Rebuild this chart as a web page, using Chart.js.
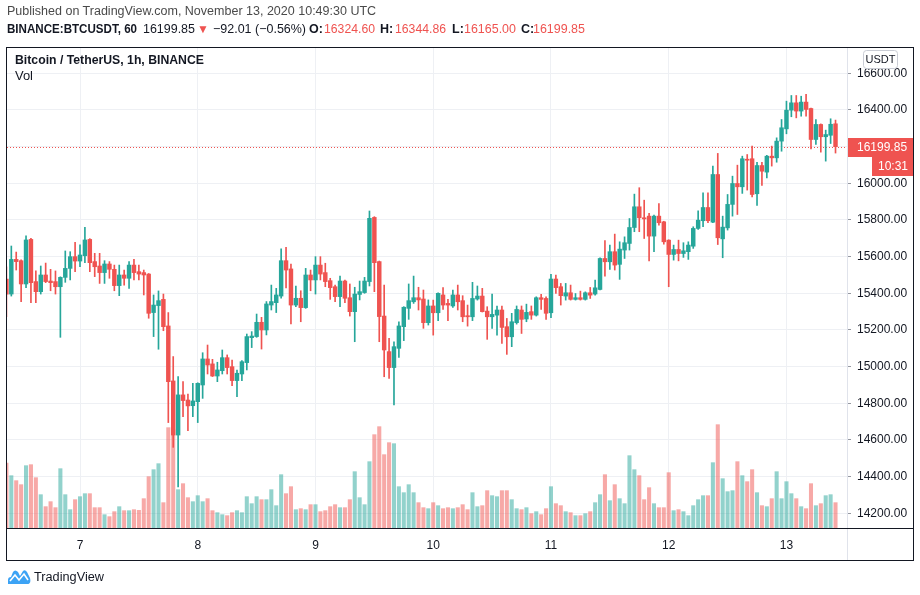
<!DOCTYPE html>
<html>
<head>
<meta charset="utf-8">
<script src="https://cdn.jsdelivr.net/npm/chart.js@4.4.1/dist/chart.umd.min.js"></script>
<style>
  html,body{margin:0;padding:0;background:#fff;}
  #wrap{position:relative;width:920px;height:595px;overflow:hidden;}
  canvas{position:absolute;left:0;top:0;}
  .t{position:absolute;white-space:nowrap;font-family:"Liberation Sans",Arial,sans-serif;font-size:12.5px;line-height:15px;color:#131722;transform-origin:0 50%;display:inline-block;z-index:2;}
  .b{font-weight:bold;}
  .r{color:#ef5350;}
  .g{color:#4a4a4a;}
</style>
</head>
<body>
<div id="wrap">
  <canvas id="c" width="920" height="595"></canvas>
  <div class="t g" style="left:7px;top:4px" data-w="369">Published on TradingView.com, November 13, 2020 10:49:30 UTC</div>
  <div class="t b" style="left:7px;top:22px" data-w="130">BINANCE:BTCUSDT, 60</div>
  <div class="t" style="left:143px;top:22px" data-w="52">16199.85</div>
  <div class="t r" style="left:197px;top:22px;font-size:12px">▼</div>
  <div class="t" style="left:213px;top:22px" data-w="93">−92.01 (−0.56%)</div>
  <div class="t b" style="left:309px;top:22px">O:</div>
  <div class="t r" style="left:324px;top:22px" data-w="51">16324.60</div>
  <div class="t b" style="left:380px;top:22px">H:</div>
  <div class="t r" style="left:395px;top:22px" data-w="51">16344.86</div>
  <div class="t b" style="left:452px;top:22px">L:</div>
  <div class="t r" style="left:464px;top:22px" data-w="52">16165.00</div>
  <div class="t b" style="left:521px;top:22px">C:</div>
  <div class="t r" style="left:533px;top:22px" data-w="52">16199.85</div>
  <div class="t b" style="left:15px;top:53px" data-w="189">Bitcoin / TetherUS, 1h, BINANCE</div>
  <div class="t" style="left:15px;top:69px" data-w="18">Vol</div>
  <svg style="position:absolute;left:7px;top:569px" width="24" height="16" viewBox="0 0 24 16">
    <path d="M1 15 L1 11 Q1 8 4 8 L6 3 Q8 0 11 3 L13 7 L16 2 Q18 0 20 3 L23 9 Q24.5 15 20 15 Z" fill="#3ca3f5"/>
    <path d="M3 12 L8 6 L12 11 L17 5 L21 11" stroke="#fff" stroke-width="1.6" fill="none"/>
  </svg>
  <div class="t" style="left:34px;top:570px" data-w="70">TradingView</div>
</div>
<script>
// ---- data (1h candles, Nov 6 09:00 UTC .. Nov 13 10:00 UTC) ----
const opens = [15478,15396,15585,15578,15451,15694,15464,15409,15500,15467,
15464,15436,15487,15536,15600,15576,15605,15694,15573,15549,
15513,15560,15531,15442,15500,15482,15554,15518,15513,15505,
15295,15333,15367,15222,14922,14627,14846,14818,14787,14809,
14900,15042,15015,14949,14978,15049,15000,14924,14960,15022,
15158,15164,15242,15200,15336,15349,15385,15578,15533,15336,
15373,15322,15500,15473,15554,15513,15469,15436,15382,15467,
15376,15300,15394,15404,15464,15814,15573,15276,15082,14995,
15100,15218,15318,15354,15376,15369,15240,15331,15294,15391,
15345,15331,15391,15360,15278,15272,15369,15385,15303,15272,
15281,15309,15218,15163,15240,15309,15260,15300,15281,15376,
15372,15294,15478,15436,15385,15403,15367,15376,15367,15403,
15396,15421,15590,15572,15627,15558,15636,15672,15759,15872,
15812,15821,15712,15821,15790,15690,15612,15639,15617,15627,
15657,15754,15796,15868,15788,16048,15697,15757,15885,15999,
15981,16130,16134,15943,16097,16061,16148,16139,16230,16297,
16399,16439,16394,16443,16408,16239,16321,16254,16262,16324.60];
const highs = [15545,15658,15625,15582,15713,15700,15522,15549,15565,15531,
15522,15490,15631,15627,15678,15664,15760,15698,15618,15618,
15578,15573,15554,15554,15527,15573,15585,15554,15527,15508,
15391,15413,15396,15295,15055,14946,14918,14851,14909,14912,
15076,15118,15040,15024,15091,15064,15036,14982,15033,15178,
15191,15287,15269,15355,15445,15427,15642,15651,15560,15440,
15414,15536,15527,15600,15600,15564,15482,15445,15494,15472,
15451,15433,15467,15487,15849,15818,15576,15445,15155,15136,
15245,15327,15451,15494,15433,15418,15364,15363,15403,15431,
15367,15418,15445,15387,15336,15460,15440,15427,15327,15396,
15331,15331,15263,15291,15331,15331,15341,15331,15381,15394,
15381,15503,15500,15454,15454,15445,15399,15412,15408,15432,
15472,15594,15687,15663,15723,15681,15708,15808,15941,15976,
15908,15836,15827,15890,15793,15692,15663,15690,15676,15681,
15763,15850,15948,15948,16094,16163,15821,15939,16039,16099,
16148,16157,16203,16115,16115,16152,16203,16248,16348,16448,
16479,16479,16475,16485,16410,16348,16324,16290,16352,16344.86];
const lows = [15273,15385,15527,15354,15431,15349,15349,15396,15458,15414,
15396,15160,15460,15473,15518,15545,15567,15518,15491,15454,
15454,15482,15414,15387,15445,15427,15473,15473,15391,15264,
15164,15095,15196,14695,14560,14344,14727,14651,14727,14695,
14827,14960,14946,14918,14960,14960,14896,14836,14924,14982,
15104,15160,15096,15173,15309,15295,15373,15430,15233,15327,
15245,15318,15414,15396,15473,15436,15367,15354,15327,15349,
15276,15136,15364,15400,15440,15409,15136,14945,14936,14791,
15051,15142,15258,15345,15309,15209,15227,15172,15251,15312,
15251,15323,15309,15245,15221,15251,15363,15298,15149,15209,
15172,15127,15067,15109,15232,15181,15245,15258,15276,15312,
15258,15267,15400,15336,15363,15363,15363,15363,15363,15372,
15390,15418,15494,15530,15527,15476,15590,15636,15736,15736,
15699,15577,15627,15772,15668,15436,15581,15577,15596,15585,
15645,15748,15763,15785,15785,15666,15594,15745,15821,15830,
15945,15963,15926,15879,15988,16030,16094,16115,16175,16270,
16363,16357,16366,16366,16188,16212,16170,16121,16217,16165.00];
const closes = [15396,15585,15573,15451,15691,15458,15409,15500,15464,15458,
15436,15487,15536,15600,15576,15609,15691,15567,15545,15513,
15560,15531,15442,15500,15482,15554,15513,15505,15500,15291,
15336,15360,15218,14918,14627,14846,14815,14786,14813,14909,
15042,15009,14949,14982,15049,14995,14924,14964,15027,15164,
15167,15242,15200,15342,15355,15391,15578,15527,15336,15373,
15322,15500,15473,15554,15505,15464,15431,15382,15467,15373,
15300,15396,15409,15467,15809,15567,15273,15091,14995,15109,
15222,15324,15360,15376,15364,15240,15331,15294,15400,15336,
15336,15391,15354,15272,15272,15372,15385,15300,15272,15285,
15309,15214,15163,15245,15312,15258,15296,15281,15376,15367,
15291,15478,15431,15387,15403,15367,15376,15367,15403,15390,
15430,15590,15572,15627,15554,15641,15676,15759,15872,15812,
15806,15712,15821,15785,15681,15612,15639,15617,15632,15663,
15754,15799,15868,15796,16048,15703,15761,15885,15999,15981,
16134,16126,15939,16097,16066,16148,16139,16230,16303,16399,
16439,16394,16443,16403,16239,16321,16254,16266,16322,16199.85];
const volumes = [5850,4710,4260,3900,5610,5700,4530,3000,1920,2370,
1830,5340,3000,1650,2550,2820,3090,3090,1830,1830,
1200,1020,1470,1920,1560,1560,1650,1590,2640,4620,
5250,5790,2280,9030,8850,3450,3990,2730,2370,2910,
2370,2640,1560,1380,1200,1110,1380,1560,1380,2820,
2190,2820,2550,2550,3450,2010,4800,3090,3720,1650,
1740,1650,2100,2100,1470,1560,1920,2100,1830,1830,
2550,5070,2730,2100,5970,8400,9120,6600,7680,7590,
3720,3180,3900,3180,2280,1830,1740,2280,2010,1740,
1830,1740,1830,2100,1650,3180,1920,2010,3360,2910,
2820,3360,3360,2550,1740,1650,1830,1290,1470,1200,
1740,3720,2190,2010,1470,1380,1110,1110,1290,1470,
2280,3000,4800,2460,3900,2640,2190,6510,5250,4710,
2550,3630,2190,1830,1830,4980,1560,1650,1470,1110,
2010,2550,2910,2910,5880,9300,4440,3270,3360,5970,
4710,4170,5250,3180,2010,1920,2640,5070,2640,4170,
3090,2640,1920,1740,3990,2010,2190,2910,3000,2280];
const dayLabels = ['7','8','9','10','11','12','13'];
const firstDayHour = 15;           // candle index of Nov 7 00:00 UTC
const priceTicks = [14200,14400,14600,14800,15000,15200,15400,15600,15800,16000,16200,16400,16600];
const countdown = '10:31';
const quoteCurrency = 'USDT';

// ---- styling ----
const GREEN = '#26a69a', RED = '#ef5350';
const GREEN_V = 'rgba(38,166,154,0.5)', RED_V = 'rgba(239,83,80,0.5)';
const FONT = '"Liberation Sans", Arial, sans-serif';
const n = closes.length;
const isUp = i => closes[i] >= opens[i];
const lastClose = closes[n - 1];

const volData = volumes.map((v, i) => ({x: i, y: v}));
const wickData = highs.map((h, i) => ({x: i, y: [lows[i], h]}));
const bodyData = opens.map((o, i) => ({x: i, y: [Math.min(o, closes[i]), Math.max(o, closes[i])]}));
const cUp = opens.map((o, i) => isUp(i) ? GREEN : RED);
const vUp = opens.map((o, i) => isUp(i) ? GREEN_V : RED_V);

const overlay = {
  id: 'overlay',
  beforeDatasetsDraw(chart) {
    const {ctx, chartArea: a, scales: {y}} = chart;
    const py = Math.round(y.getPixelForValue(lastClose)) + 0.5;
    ctx.save();
    ctx.strokeStyle = RED;
    ctx.lineWidth = 1;
    ctx.setLineDash([1, 2]);
    ctx.beginPath(); ctx.moveTo(a.left, py); ctx.lineTo(a.right, py); ctx.stroke();
    ctx.restore();
  },
  afterDraw(chart) {
    const {ctx, chartArea: a, scales: {y}} = chart;
    const L = 6.5, R = 913.5, T = 47.5, B = 560.5;
    ctx.save();
    ctx.lineWidth = 1;
    // price-scale separator
    ctx.strokeStyle = '#e0e3eb';
    ctx.beginPath(); ctx.moveTo(a.right + 0.5, T); ctx.lineTo(a.right + 0.5, B); ctx.stroke();
    // time axis line
    ctx.strokeStyle = '#131722';
    ctx.beginPath(); ctx.moveTo(L, a.bottom + 0.5); ctx.lineTo(R, a.bottom + 0.5); ctx.stroke();
    // frame
    ctx.strokeRect(L, T, R - L, B - T);
    // last price label
    const py = Math.round(y.getPixelForValue(lastClose));
    ctx.fillStyle = RED;
    ctx.fillRect(a.right + 1, py - 9, R - 0.5 - a.right - 1, 19);
    ctx.fillRect(872, py + 10, R - 0.5 - 872, 19);
    ctx.fillStyle = '#fff';
    ctx.font = '12px ' + FONT;
    ctx.textBaseline = 'middle';
    ctx.textAlign = 'left';
    ctx.fillText(lastClose.toFixed(2), a.right + 10, py + 0.5);
    ctx.fillText(countdown, 878, py + 19.5);
    // currency badge
    const bx = 863.5, by = 50.5, bw = 34, bh = 18;
    ctx.beginPath();
    ctx.roundRect(bx, by, bw, bh, 3);
    ctx.fillStyle = '#fff'; ctx.fill();
    ctx.strokeStyle = '#c9ccd4'; ctx.stroke();
    ctx.fillStyle = '#131722';
    ctx.font = '11px ' + FONT;
    ctx.textAlign = 'center';
    ctx.fillText(quoteCurrency, bx + bw / 2, by + bh / 2);
    ctx.restore();
  }
};

new Chart(document.getElementById('c'), {
  type: 'bar',
  data: {
    datasets: [
      {label: 'Vol', data: volData, yAxisID: 'v', backgroundColor: vUp, barThickness: 3.4, grouped: false, order: 3},
      {label: 'wick', data: wickData, yAxisID: 'y', backgroundColor: cUp, barThickness: 1, grouped: false, order: 2},
      {label: 'body', data: bodyData, yAxisID: 'y', backgroundColor: cUp, barThickness: 3.8, minBarLength: 1, grouped: false, order: 1}
    ]
  },
  options: {
    responsive: false,
    animation: false,
    devicePixelRatio: 1,
    layout: {padding: {left: 7, right: 7, top: 48, bottom: 35}},
    plugins: {legend: {display: false}, tooltip: {enabled: false}},
    scales: {
      x: {
        type: 'linear', min: 0.12, max: 171.34, offset: false,
        afterBuildTicks: ax => { ax.ticks = dayLabels.map((d, k) => ({value: firstDayHour + 24 * k})); },
        afterFit: s => { s.height = 32; },
        grid: {color: '#eef0f4', drawTicks: false, offset: false},
        border: {display: false},
        ticks: {
          autoSkip: false, maxRotation: 0, padding: 10, color: '#131722',
          font: {family: FONT, size: 12},
          callback: (v, i) => dayLabels[i]
        }
      },
      y: {
        type: 'linear', position: 'right', min: 14120, max: 16738,
        afterBuildTicks: ax => { ax.ticks = priceTicks.map(v => ({value: v})); },
        afterFit: s => { s.width = 66; },
        grid: {color: '#eef0f4', tickLength: 4, tickColor: '#9598a1'},
        border: {display: false},
        ticks: {padding: 6, color: '#131722', font: {family: FONT, size: 12}, callback: v => Number(v).toFixed(2)}
      },
      v: {type: 'linear', display: false, min: 0, max: 43200}
    }
  },
  plugins: [overlay]
});

// fit header texts to their measured widths
document.querySelectorAll('.t[data-w]').forEach(el => {
  const w = el.getBoundingClientRect().width;
  const target = parseFloat(el.dataset.w);
  if (w > 0) el.style.transform = 'scaleX(' + (target / w).toFixed(3) + ')';
});
</script>
</body>
</html>
